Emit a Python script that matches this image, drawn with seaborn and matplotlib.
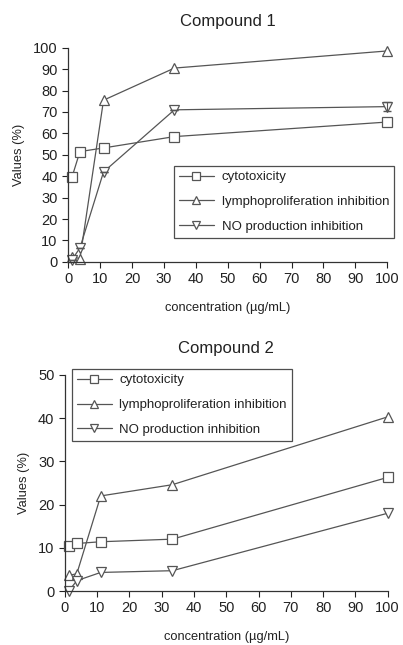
import matplotlib
matplotlib.use("Agg")
import matplotlib.pyplot as plt
import seaborn as sns
import pandas as pd

# concentrations (ug/mL)
conc = [1.2, 3.7, 11.1, 33.3, 100]

# compound 1
c1_cyto = [39.5, 51.5, 53.2, 58.5, 65.3]
c1_lympho = [2.5, 1.5, 75.5, 90.5, 98.5]
c1_no = [1.0, 6.5, 42.0, 71.0, 72.5]
c1_no_err = [0, 0, 0, 0, 2.2]

# compound 2
c2_cyto = [10.5, 11.0, 11.4, 12.0, 26.3]
c2_lympho = [3.6, 4.0, 22.0, 24.6, 40.3]
c2_no = [0.0, 2.4, 4.3, 4.7, 18.0]

labels = ["cytotoxicity", "lymphoproliferation inhibition", "NO production inhibition"]
markers = ["s", "^", "v"]

sns.set_style("ticks")
plt.rcParams["font.family"] = ["Liberation Sans", "DejaVu Sans"]
ink = "#222222"
line_col = "#555555"

fig = plt.figure(figsize=(4.03, 6.45), dpi=100)
ax1 = fig.add_axes([0.169, 0.594, 0.792, 0.332])
ax2 = fig.add_axes([0.161, 0.0837, 0.801, 0.335])


def draw(ax, series, ymax, ystep, title, anchor, loc):
    for vals, lab, mk in zip(series, labels, markers):
        df = pd.DataFrame({"conc": conc, "val": vals})
        sns.lineplot(data=df, x="conc", y="val", ax=ax, label=lab, color=line_col,
                     marker=mk, markersize=7, markerfacecolor="white",
                     markeredgecolor=line_col, markeredgewidth=0.9,
                     linewidth=0.9, clip_on=False)
    ax.set_xlim(0, 100)
    ax.set_ylim(0, ymax)
    ax.set_xticks(range(0, 101, 10))
    ax.set_yticks(range(0, ymax + 1, ystep))
    ax.tick_params(labelsize=10.5, colors=ink, length=4, width=0.8, direction="out")
    for s in ["top", "right"]:
        ax.spines[s].set_visible(False)
    for s in ["left", "bottom"]:
        ax.spines[s].set_color("#333333")
        ax.spines[s].set_linewidth(0.9)
    ax.set_title(title, fontsize=12, color=ink, pad=16)
    ax.set_xlabel("concentration (µg/mL)", fontsize=9.3, color=ink, labelpad=11)
    ax.set_ylabel("Values (%)", fontsize=9.3, color=ink, labelpad=6)
    leg = ax.legend(fontsize=9.5, handlelength=2.6, handletextpad=0.6,
                    markerscale=0.8, frameon=True, fancybox=False,
                    edgecolor="#222222", labelspacing=0.95, borderpad=0.4,
                    borderaxespad=0, loc=loc, bbox_to_anchor=anchor)
    leg.get_frame().set_linewidth(0.9)
    for t in leg.get_texts():
        t.set_color(ink)


draw(ax1, [c1_cyto, c1_lympho, c1_no], 100, 10, "Compound 1", (1.022, 0.449), "upper right")
ax1.errorbar(conc, c1_no, yerr=c1_no_err, fmt="none", ecolor=line_col,
             elinewidth=0.8, capsize=3, clip_on=False)

draw(ax2, [c2_cyto, c2_lympho, c2_no], 50, 10, "Compound 2", (0.022, 1.028), "upper left")

fig.savefig("out.png", dpi=100)
